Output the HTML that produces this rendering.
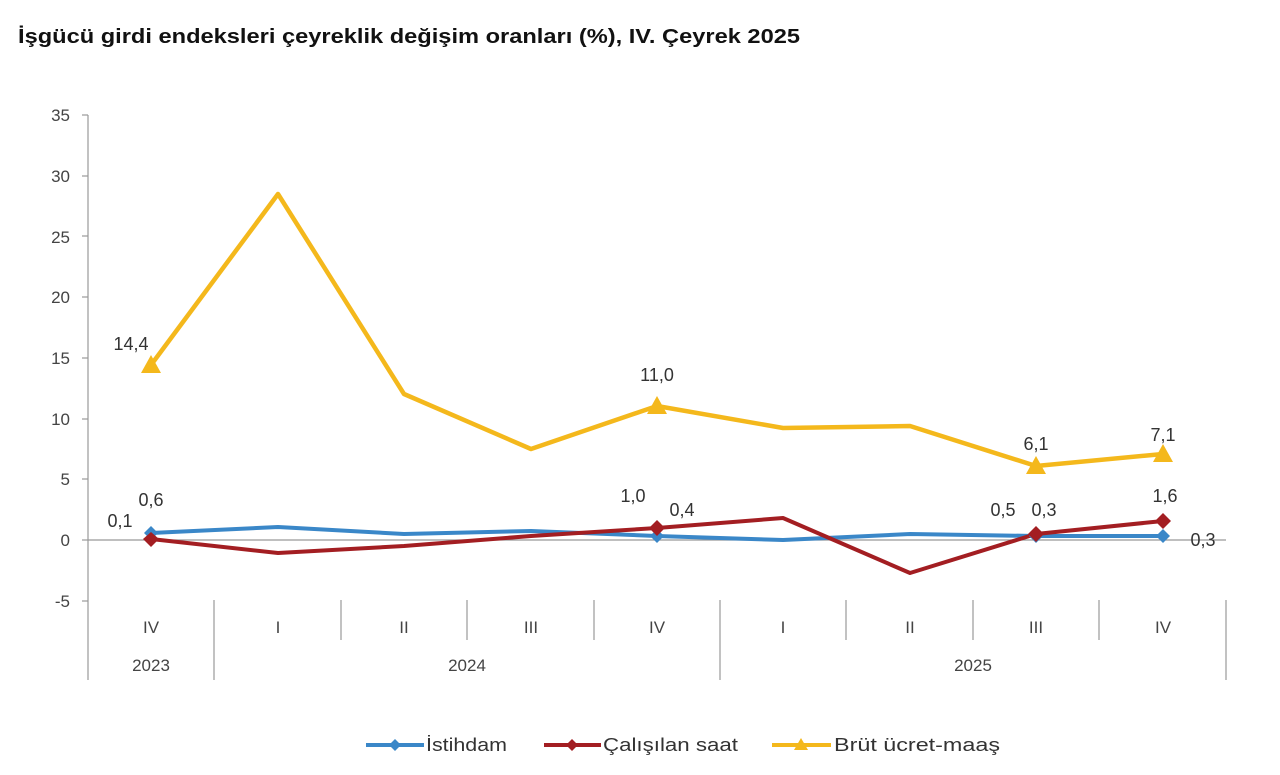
<!DOCTYPE html>
<html><head><meta charset="utf-8"><style>
body{margin:0;background:#fff;width:1280px;height:775px;overflow:hidden}
svg{display:block;font-family:"Liberation Sans",Arial,sans-serif}
</style></head><body>
<svg width="1280" height="775" viewBox="0 0 1280 775">
<text x="18" y="43" font-size="20" font-weight="bold" fill="#111" textLength="782" lengthAdjust="spacingAndGlyphs">İşgücü girdi endeksleri çeyreklik değişim oranları (%), IV. Çeyrek 2025</text>
<g font-size="17" fill="#444" text-anchor="end">
<text x="70" y="121">35</text><text x="70" y="182">30</text><text x="70" y="243">25</text>
<text x="70" y="303">20</text><text x="70" y="364">15</text><text x="70" y="425">10</text>
<text x="70" y="485">5</text><text x="70" y="546">0</text><text x="70" y="607">-5</text>
</g>
<g stroke="#999" stroke-width="1.2">
<line x1="88" y1="115" x2="88" y2="680"/>
<line x1="82" y1="115" x2="88" y2="115"/><line x1="82" y1="176" x2="88" y2="176"/><line x1="82" y1="236" x2="88" y2="236"/>
<line x1="82" y1="297" x2="88" y2="297"/><line x1="82" y1="358" x2="88" y2="358"/><line x1="82" y1="419" x2="88" y2="419"/>
<line x1="82" y1="479" x2="88" y2="479"/><line x1="82" y1="540" x2="88" y2="540"/><line x1="82" y1="601" x2="88" y2="601"/>
<line x1="88" y1="540" x2="1226" y2="540"/>
<line x1="214" y1="600" x2="214" y2="680"/><line x1="720" y1="600" x2="720" y2="680"/><line x1="1226" y1="600" x2="1226" y2="680"/>
<line x1="341" y1="600" x2="341" y2="640"/><line x1="467" y1="600" x2="467" y2="640"/><line x1="594" y1="600" x2="594" y2="640"/>
<line x1="846" y1="600" x2="846" y2="640"/><line x1="973" y1="600" x2="973" y2="640"/><line x1="1099" y1="600" x2="1099" y2="640"/>
</g>
<g font-size="17" fill="#444" text-anchor="middle">
<text x="151" y="633">IV</text><text x="278" y="633">I</text><text x="404" y="633">II</text><text x="531" y="633">III</text>
<text x="657" y="633">IV</text><text x="783" y="633">I</text><text x="910" y="633">II</text><text x="1036" y="633">III</text><text x="1163" y="633">IV</text>
<text x="151" y="671">2023</text><text x="467" y="671">2024</text><text x="973" y="671">2025</text>
</g>
<polyline fill="none" stroke="#f4b81c" stroke-width="4.5" stroke-linejoin="round" points="151,365 278,194 404,394 531,449 657,406 783,428 910,426 1036,466 1163,454"/>
<polyline fill="none" stroke="#3a87c8" stroke-width="4" stroke-linejoin="round" points="151,533 278,527 404,534 531,531 657,536 783,540 910,534 1036,536 1163,536"/>
<polyline fill="none" stroke="#a31e22" stroke-width="4" stroke-linejoin="round" points="151,539 278,553 404,546 531,536 657,528 783,518 910,573 1036,534 1163,521"/>
<g fill="#3a87c8"><path d="M151,526l7,7-7,7-7-7z"/><path d="M657,529l7,7-7,7-7-7z"/><path d="M1036,529l7,7-7,7-7-7z"/><path d="M1163,529l7,7-7,7-7-7z"/></g>
<g fill="#a31e22"><path d="M151,532l8,7-8,8-8-8z"/><path d="M657,520l8,8-8,8-8-8z"/><path d="M1036,526l8,8-8,8-8-8z"/><path d="M1163,513l8,8-8,8-8-8z"/></g>
<g fill="#f4b81c"><path d="M151,355l10,18h-20z"/><path d="M657,396l10,18h-20z"/><path d="M1036,456l10,18h-20z"/><path d="M1163,444l10,18h-20z"/></g>
<g font-size="18" fill="#333" text-anchor="middle">
<text x="131" y="350">14,4</text><text x="657" y="381">11,0</text><text x="1036" y="450">6,1</text><text x="1163" y="441">7,1</text>
<text x="120" y="527">0,1</text><text x="151" y="506">0,6</text><text x="633" y="502">1,0</text><text x="682" y="516">0,4</text>
<text x="1003" y="516">0,5</text><text x="1044" y="516">0,3</text><text x="1165" y="502">1,6</text><text x="1203" y="546">0,3</text>
</g>
<g font-size="18" fill="#333">
<line x1="366" y1="745" x2="424" y2="745" stroke="#3a87c8" stroke-width="4"/><path d="M395,739l6,6-6,6-6-6z" fill="#3a87c8"/>
<text x="426" y="751" textLength="81" lengthAdjust="spacingAndGlyphs">İstihdam</text>
<line x1="544" y1="745" x2="601" y2="745" stroke="#a31e22" stroke-width="4"/><path d="M572,739l6,6-6,6-6-6z" fill="#a31e22"/>
<text x="603" y="751" textLength="135" lengthAdjust="spacingAndGlyphs">Çalışılan saat</text>
<line x1="772" y1="745" x2="831" y2="745" stroke="#f4b81c" stroke-width="4"/><path d="M801,738l7,12h-14z" fill="#f4b81c"/>
<text x="834" y="751" textLength="166" lengthAdjust="spacingAndGlyphs">Brüt ücret-maaş</text>
</g>
</svg>
</body></html>
